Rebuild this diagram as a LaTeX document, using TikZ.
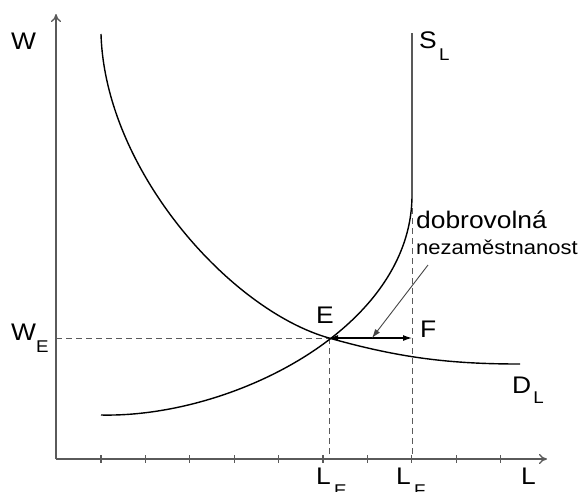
\documentclass[tikz,border=0pt]{standalone}
\usepackage{graphicx}
\usepackage{fontspec}
\setmainfont{Liberation Sans}
\usetikzlibrary{arrows.meta}
\definecolor{axisgray}{RGB}{90,90,90}
\definecolor{pointergray}{RGB}{70,70,70}
\newcommand{\mysub}[2][12pt]{\raisebox{-#1}{\fontsize{17}{17}\selectfont #2}}
\newcommand{\wide}[1]{\scalebox{1.1}[1]{#1}}
\begin{document}
\begin{tikzpicture}[x=1pt,y=-1pt,
  axisline/.style={draw=axisgray, line width=1.3pt, -{To[length=8pt,width=10pt]}},
  tickline/.style={draw=axisgray, line width=1.1pt},
  curveline/.style={draw=black, line width=1.4pt},
  guide/.style={draw=axisgray, line width=1pt, dash pattern=on 6pt off 4pt},
  gap/.style={draw=black, line width=1.2pt, {Latex[length=9pt,width=6pt]}-{Latex[length=9pt,width=6pt]}},
  pointer/.style={draw=pointergray, line width=0.9pt, -{Latex[length=9pt,width=6pt]}},
  lbl/.style={inner sep=0pt, anchor=base west, font=\fontsize{24}{24}\selectfont},
  smalllbl/.style={inner sep=0pt, anchor=base west, font=\fontsize{20}{20}\selectfont}]
\useasboundingbox[fill=white] (0,0) rectangle (585,491);

% key points
\coordinate (O) at (56,459);
\coordinate (Ytop) at (56,14);
\coordinate (Xend) at (547,459);
\coordinate (E) at (329,338);
\coordinate (F) at (412,338);
\coordinate (WE) at (56,338);
\coordinate (LE) at (329,459);
\coordinate (LF) at (412,459);
\coordinate (Ftop) at (412,208);
\coordinate (Ptail) at (428,265);
\coordinate (Ptip) at (372,338);

% dashed guides
\draw[guide] (WE) -- (E);
\draw[guide] (E) -- (LE);
\draw[guide] (Ftop) -- (LF);

% axes
\draw[axisline] (O) -- (Ytop);
\draw[axisline] (O) -- (Xend);
\foreach \x in {101,145.4,189.8,234.2,278.6,323,367.4,411.8,456.2,500.6}
  \draw[tickline] (\x,455) -- (\x,463);

% supply curve S_L
\draw[curveline] (101,415) .. controls (232,418) and (412,328) .. (412,195) -- (412,33);
% demand curve D_L
\draw[curveline] (101,34) .. controls (105,170) and (230,310) .. (E)
  .. controls (400,358) and (450,364) .. (520,364);

% E--F gap and pointer
\draw[gap] (E) -- (F);
\draw[pointer] (Ptail) -- (Ptip);

% labels
\node[lbl] (lW) at (11,49) {\wide{W}};
\node[lbl] (lWE) at (11,340) {\wide{W\mysub{E}}};
\node[lbl] (lS) at (419,48) {\wide{S\hspace{2pt}\mysub{L}}};
\node[lbl] (lD) at (512,393) {\wide{D\hspace{2pt}\mysub[10pt]{L}}};
\node[lbl] (lE) at (316,323) {\wide{E}};
\node[lbl] (lF) at (420,337) {\wide{F}};
\node[lbl] (lLE) at (316,484) {\wide{L\hspace{3pt}\mysub{E}}};
\node[lbl] (lLF) at (396,484) {\wide{L\hspace{3pt}\mysub{F}}};
\node[lbl] (lL) at (521,484) {\wide{L}};
\node[lbl] (lvol) at (416,228) {\wide{dobrovolná}};
\node[smalllbl] (lnez) at (416,254) {\wide{nezaměstnanost}};
\end{tikzpicture}
\end{document}
